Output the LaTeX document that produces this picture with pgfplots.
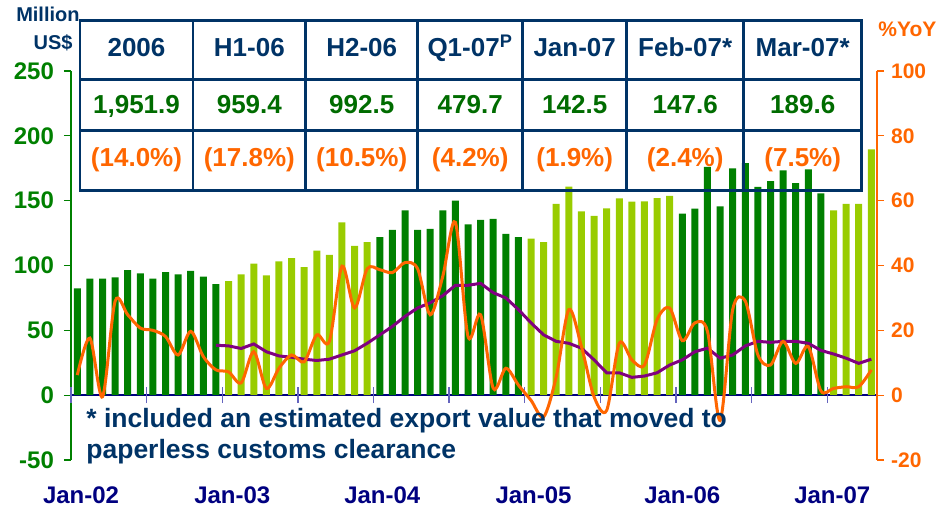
\documentclass[border=0pt]{standalone}
\usepackage{pgfplots}
\pgfplotsset{compat=1.18}
\usepackage{fontspec}
\setmainfont{Liberation Sans}
\definecolor{dgreen}{RGB}{0,128,0}
\definecolor{lgreen}{RGB}{153,204,0}
\definecolor{tgreen}{RGB}{0,108,0}
\definecolor{orng}{RGB}{255,102,0}
\definecolor{purp}{RGB}{128,0,128}
\definecolor{navyt}{RGB}{0,51,102}
\definecolor{navyx}{RGB}{0,0,128}
\definecolor{tickb}{RGB}{100,100,190}
\newcommand{\fs}[1]{\fontsize{#1}{#1}\selectfont\bfseries}
\begin{document}
\begin{tikzpicture}
\begin{axis}[
  at={(0pt,0pt)}, anchor=south west, scale only axis,
  width=403pt, height=194.5pt,
  xmin=-0.5, xmax=63.45, ymin=-50, ymax=250,
  axis y line=left, axis x line=middle,
  hide obscured x ticks=false,
  x axis line style={-, draw=navyx, line width=0.7pt},
  y axis line style={-, draw=dgreen, line width=0.6pt},
  xtick=\empty,
  extra x ticks={0.3,12.3,24.2,36.2,48.0,59.9},
  extra x tick labels={Jan-02,Jan-03,Jan-04,Jan-05,Jan-06,Jan-07},
  extra x tick style={major tick length=0pt, tick style={draw=none}, tick label style={anchor=center, yshift=-50pt}},
  ytick={-50,0,...,250},
  ytick align=outside,
  y tick style={draw=dgreen, line width=0.6pt},
  major tick length=3.5pt,
  yticklabel style={font=\fs{12}, text=dgreen, xshift=-1.5pt},
  xticklabel style={font=\fs{12}, text=navyx},
  /pgf/number format/assume math mode=true,
  ybar, bar width=3.5pt, bar shift=0pt,
  clip=false,
]
\addplot[fill=dgreen, draw=none] coordinates {
(0,82.4) (1,89.8) (2,89.8) (3,90.8) (4,96.5) (5,94.0) (6,89.8) (7,94.8) (8,93.2) (9,95.8) (10,91.5) (11,85.7)
(24,121.8) (25,127.4) (26,142.6) (27,127.4) (28,128.3) (29,142.6) (30,150.0) (31,131.8) (32,135.1) (33,135.9) (34,124.3) (35,121.8)
(48,140.0) (49,143.8) (50,176.0) (51,145.6) (52,175.0) (53,179.0) (54,160.7) (55,165.0) (56,173.4) (57,163.6) (58,174.2) (59,155.6)
};
\addplot[fill=lgreen, draw=none] coordinates {
(12,88.0) (13,93.2) (14,101.5) (15,92.3) (16,103.1) (17,105.6) (18,98.8) (19,111.4) (20,108.1) (21,133.3) (22,115.1) (23,118.1)
(36,120.7) (37,118.1) (38,147.5) (39,160.9) (40,141.7) (41,138.2) (42,144.0) (43,151.7) (44,149.3) (45,149.5) (46,151.9) (47,153.7)
(60,142.5) (61,147.6) (62,147.6) (63,189.6)
};
\end{axis}
% x ticks crossing the zero line
\begin{axis}[
  at={(0pt,0pt)}, anchor=south west, scale only axis,
  width=403pt, height=194.5pt,
  xmin=-0.5, xmax=63.45, ymin=-50, ymax=250,
  axis x line=middle, axis y line=none,
  hide obscured x ticks=false,
  x axis line style={draw=none},
  xtick={-0.5,5.5,...,59.5}, xticklabels={},
  xtick align=center, major tick length=8pt,
  x tick style={draw=tickb, line width=0.7pt},
  clip=false,
]
\end{axis}
\begin{axis}[
  at={(0pt,0pt)}, anchor=south west, scale only axis,
  width=403pt, height=194.5pt,
  xmin=-0.5, xmax=63.45, ymin=-20, ymax=100,
  axis y line=right, axis x line=none,
  y axis line style={-, draw=orng, line width=0.6pt},
  ytick={-20,0,...,100}, ytick align=outside,
  y tick style={draw=orng, line width=0.6pt},
  major tick length=3.5pt,
  yticklabel style={font=\fs{10.5}, text=orng},
  /pgf/number format/assume math mode=true,
  clip=false,
]
\addplot[purp, line width=1.5pt] coordinates {
(11,15.4) (12,15.2) (13,14.4) (14,15.8) (15,13.4) (16,12.1) (17,11.7) (18,11.1) (19,10.7) (20,11.1) (21,12.4) (22,13.7)
(23,16.0) (24,18.6) (25,21.2) (26,24.3) (27,26.9) (28,28.5) (29,30.7) (30,33.9) (31,33.9) (32,34.5) (33,31.6) (34,30.0)
(35,26.4) (36,22.3) (37,18.6) (38,16.6) (39,16.0) (40,14.5) (41,10.9) (42,6.9) (43,6.9) (44,5.5) (45,5.9) (46,6.9)
(47,9.3) (48,10.9) (49,13.4) (50,14.5) (51,11.4) (52,12.4) (53,15.2) (54,16.6) (55,16.3) (56,16.6) (57,16.6) (58,16.0)
(59,13.8) (60,12.7) (61,11.4) (62,9.8) (63,11.1)
};
\addplot[orng, line width=1.5pt, smooth] coordinates {
(0,6.2) (1,17.6) (2,-0.5) (3,29.0) (4,24.8) (5,20.7) (6,20.0) (7,18.1) (8,12.4) (9,19.7) (10,11.9) (11,7.8)
(12,7.2) (13,3.8) (14,13.4) (15,2.1) (16,8.3) (17,12.4) (18,10.3) (19,18.6) (20,16.6) (21,39.8) (22,26.9) (23,39.0)
(24,38.7) (25,37.8) (26,40.9) (27,39.0) (28,24.8) (29,36.7) (30,53.3) (31,18.1) (32,24.8) (33,2.1) (34,8.3) (35,3.1)
(36,-1.6) (37,-6.7) (38,5.7) (39,26.4) (40,15.0) (41,-0.5) (42,-4.7) (43,16.0) (44,10.9) (45,9.3) (46,23.3) (47,26.9)
(48,16.8) (49,22.3) (50,19.7) (51,-7.8) (52,26.4) (53,29.0) (54,12.4) (55,9.3) (56,16.6) (57,9.8) (58,15.0) (59,1.3)
(60,2.1) (61,2.6) (62,2.6) (63,7.8)
};
\end{axis}
% table
\begin{scope}[x=1pt,y=1pt]
\draw[navyt, line width=1.3pt] (4.5,134.65) rectangle (395.35,219.65);
\draw[navyt, line width=1.3pt] (4.5,190.35) -- (395.35,190.35);
\draw[navyt, line width=1.3pt] (4.5,164.65) -- (395.35,164.65);
\foreach \x in {61,117.35,173.35,225.85,277.85,336.35}
  \draw[navyt, line width=1.3pt] (\x,134.65) -- (\x,219.65);
\begin{scope}[every node/.style={anchor=base, inner sep=0pt, font=\fs{13}}]
\node[text=navyt] at (32.75,201.7) {2006};
\node[text=navyt] at (89.18,201.7) {H1-06};
\node[text=navyt] at (145.35,201.7) {H2-06};
\node[text=navyt] at (199.6,201.7) {Q1-07\textsuperscript{P}};
\node[text=navyt] at (251.85,201.7) {Jan-07};
\node[text=navyt] at (307.1,201.7) {Feb-07*};
\node[text=navyt] at (365.85,201.7) {Mar-07*};
\node[text=tgreen] at (32.75,173.3) {1,951.9};
\node[text=tgreen] at (89.18,173.3) {959.4};
\node[text=tgreen] at (145.35,173.3) {992.5};
\node[text=tgreen] at (199.6,173.3) {479.7};
\node[text=tgreen] at (251.85,173.3) {142.5};
\node[text=tgreen] at (307.1,173.3) {147.6};
\node[text=tgreen] at (365.85,173.3) {189.6};
\node[text=orng] at (32.75,146.7) {(14.0\%)};
\node[text=orng] at (89.18,146.7) {(17.8\%)};
\node[text=orng] at (145.35,146.7) {(10.5\%)};
\node[text=orng] at (199.6,146.7) {(4.2\%)};
\node[text=orng] at (251.85,146.7) {(1.9\%)};
\node[text=orng] at (307.1,146.7) {(2.4\%)};
\node[text=orng] at (365.85,146.7) {(7.5\%)};
\end{scope}
\node[anchor=base west, inner sep=0pt, font=\fs{13.25}, text=navyt] at (7.5,16.5) {* included an estimated export value that moved to};
\node[anchor=base west, inner sep=0pt, font=\fs{13.25}, text=navyt] at (7.5,1) {paperless customs clearance};
\node[anchor=east, inner sep=0pt, font=\fs{10}, text=navyt] at (4.5,222.75) {Million};
\node[anchor=east, inner sep=0pt, font=\fs{10}, text=navyt] at (1,208.5) {US\$};
\node[anchor=west, inner sep=0pt, font=\fs{10.5}, text=orng] at (403.5,215.5) {\%YoY};
\end{scope}
\pgfresetboundingbox
\path[use as bounding box] (-35.5pt,-24.5pt) rectangle (433pt,230pt);
\end{tikzpicture}
\end{document}
